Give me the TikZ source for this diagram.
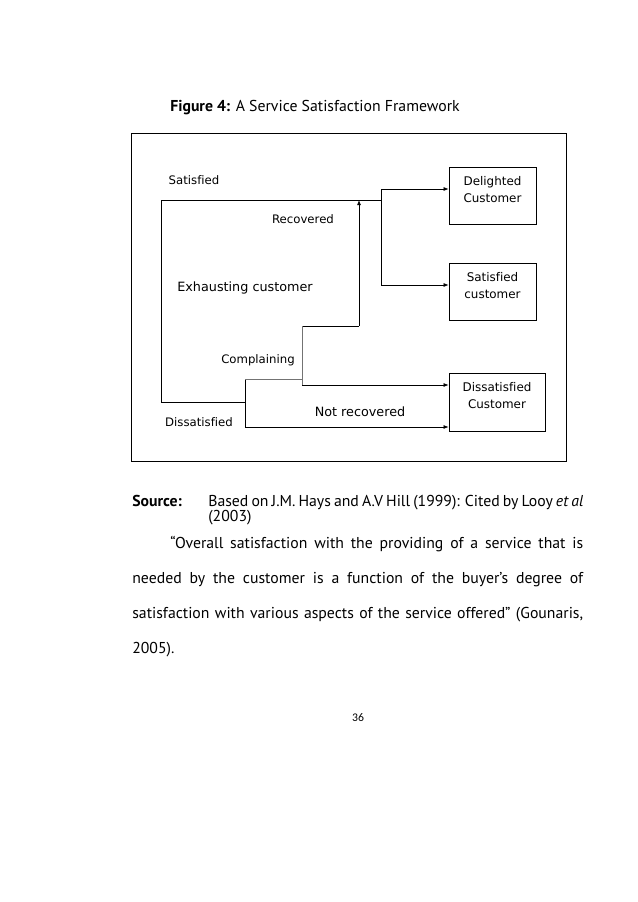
\documentclass[tikz,border=0pt]{standalone}
\usepackage{fontspec}
\setmainfont{PT Sans}
\newfontfamily\diagfont[Ligatures=NoCommon]{DejaVu Sans}
\newfontfamily\pagenofont{Carlito}
\usetikzlibrary{arrows.meta, positioning}
\tikzset{
  custbox/.style = {draw, align=center, minimum width=2.87cm, minimum height=1.88cm, text depth=0.4cm, font=\diagfont\fontsize{11.2}{16}\selectfont},
  lbl/.style = {font=\diagfont\fontsize{11}{13}\selectfont},
  biglbl/.style = {font=\diagfont\fontsize{12}{14}\selectfont},
  arrow/.style = {-{Latex[length=1.7mm, width=1.3mm]}},
  bodyline/.style = {anchor=base west, inner sep=0pt, font=\fontsize{14.8}{17}\selectfont}
}
\newcommand\justline[2]{\makebox[#1][s]{#2}}

\begin{document}
\begin{tikzpicture}[x=0.033cm, y=-0.033cm, line width=0.6pt]

    \fill[white] (0,0) rectangle (638,902);
    \useasboundingbox (0,0) rectangle (638,902);

    % caption
    \node[bodyline] (title) at (170,111) {\textbf{Figure 4:} A Service Satisfaction Framework};

    % frame
    \draw (131,133) rectangle (566,461);

    % outcome boxes
    \node[custbox] (delighted) at (492.5,195.5) {Delighted\\Customer};
    \node[custbox] (satisfied) at (492.5,292) {Satisfied\\customer};
    \node[custbox, minimum width=3.17cm, minimum height=1.91cm] (dissat) at (497,402) {Dissatisfied\\Customer};

    % labels
    \node[lbl] (l-sat) at (194,180) {Satisfied};
    \node[lbl] (l-rec) at (303,219) {Recovered};
    \node[biglbl] (l-exh) at (245,288) {Exhausting customer};
    \node[lbl] (l-comp) at (258,360) {Complaining};
    \node[lbl] (l-dis) at (199,422) {Dissatisfied};
    \node[biglbl] (l-notrec) at (360,412) {Not recovered};

    % junctions
    \coordinate (loop-br) at (245,402);
    \coordinate (loop-bl) at (161,402);
    \coordinate (loop-tl) at (161,200);
    \coordinate (loop-tr) at (381,200);
    \coordinate (split-top) at (381,189);
    \coordinate (split-bot) at (381,285);
    \coordinate (comp-low) at (245,427);
    \coordinate (comp-up) at (245,379);
    \coordinate (comp-r) at (302,379);
    \coordinate (rec-low) at (302,385);
    \coordinate (rec-step) at (302,326);
    \coordinate (rec-up) at (359,326);
    \coordinate (rec-top) at (359,200);

    \draw (loop-br) -- (loop-bl) -- (loop-tl) -- (loop-tr);
    \draw (split-top) -- (split-bot);
    \draw[arrow] (split-top) -- (split-top -| delighted.west);
    \draw[arrow] (split-bot) -- (split-bot -| satisfied.west);

    \draw (comp-low) -- (comp-up);
    \draw[black!55] (comp-up) -- (comp-r);
    \draw[arrow] (comp-low) -- (comp-low -| dissat.west);

    \draw (rec-step) -- (rec-up);
    \draw[black!55] (rec-low) -- (rec-step);
    \draw[arrow] (rec-up) -- (rec-top);
    \draw[arrow] (rec-low) -- (rec-low -| dissat.west);

    % source and text
    \node[bodyline] (src) at (132,506) {\textbf{Source:}};
    \node[bodyline] (src-txt) at (208,506) {\justline{12.375cm}{Based on J.M. Hays and A.V Hill (1999): Cited by Looy \textit{et al}}};
    \node[bodyline] (src-yr) at (208,521) {(2003)};
    \node[bodyline] (par1) at (170,548) {\justline{13.63cm}{“Overall satisfaction with the providing of a service that is}};
    \node[bodyline] (par2) at (132,583) {\justline{14.88cm}{needed by the customer is a function of the buyer’s degree of}};
    \node[bodyline] (par3) at (132,618) {\justline{14.88cm}{satisfaction with various aspects of the service offered” (Gounaris,}};
    \node[bodyline] (par4) at (132,653) {2005).};

    \node[font=\pagenofont\fontsize{11}{13}\selectfont] (pageno) at (358,718) {36};

\end{tikzpicture}
\end{document}
